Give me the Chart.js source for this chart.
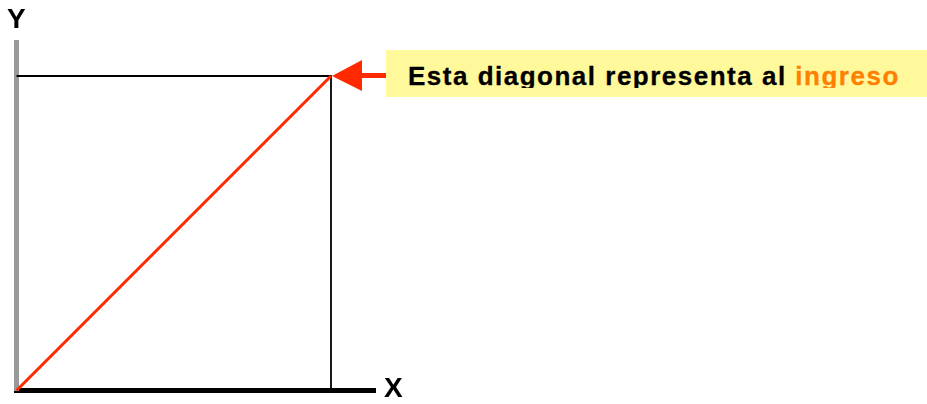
<!DOCTYPE html>
<html>
<head>
<meta charset="utf-8">
<script src="https://cdn.jsdelivr.net/npm/chart.js@4/dist/chart.umd.min.js"></script>
<style>
  html, body { margin: 0; padding: 0; background: #ffffff; }
  #wrap { position: relative; width: 927px; height: 404px; overflow: hidden; font-family: "Liberation Sans", Arial, sans-serif; }
  #c { position: absolute; left: 0; top: 0; }
  .axis-label { position: absolute; font-weight: bold; font-size: 28px; line-height: 28px; color: #000; white-space: nowrap; }
  #note { position: absolute; left: 386px; top: 50px; width: 541px; height: 47px; background: #FFF99C; }
  #noteText { position: absolute; left: 22px; top: 13px; height: 24.5px; overflow: hidden; white-space: nowrap;
              font-weight: bold; font-size: 26px; line-height: 26px; letter-spacing: 1.5px; color: #000;
              -webkit-text-stroke: 0.3px currentColor; }
  #noteText .hl { color: #FF8000; }
</style>
</head>
<body>
<div id="wrap">
  <canvas id="c" width="927" height="404"></canvas>
  <div class="axis-label" style="left:7px; top:4.6px;">Y</div>
  <div class="axis-label" style="left:384px; top:374.3px;">X</div>
  <div id="note"><div id="noteText">Esta diagonal representa al <span class="hl">ingreso</span></div></div>
</div>
<script>
// ---- data ----
const incomeLevel = 10;                 // the income that the diagonal represents
const diagonalX = [0, incomeLevel];
const diagonalY = [0, incomeLevel];
const frameX = [0, incomeLevel, incomeLevel];
const frameY = [incomeLevel, incomeLevel, 0];
const xAxisMax = 11.415;
const yAxisMax = 11.065;

const toPoints = (xs, ys) => xs.map((x, i) => ({ x: x, y: ys[i] }));

const arrowPlugin = {
  id: 'arrowToDiagonal',
  afterDatasetsDraw(chart) {
    const ctx = chart.ctx;
    const px = chart.scales.x.getPixelForValue(incomeLevel);
    const py = chart.scales.y.getPixelForValue(incomeLevel);
    ctx.save();
    ctx.fillStyle = '#FF2A00';
    ctx.beginPath();
    ctx.moveTo(px + 1, py);
    ctx.lineTo(px + 31, py - 16);
    ctx.lineTo(px + 31, py + 15);
    ctx.closePath();
    ctx.fill();
    ctx.fillRect(px + 30, py - 3, 386 - (px + 30), 5);
    ctx.restore();
  }
};

new Chart(document.getElementById('c'), {
  type: 'scatter',
  data: {
    datasets: [
      {
        label: 'frame',
        data: toPoints(frameX, frameY),
        showLine: true,
        borderColor: '#000000',
        borderWidth: 1.8,
        pointRadius: 0,
        fill: false,
        clip: false,
        order: 2
      },
      {
        label: 'ingreso',
        data: toPoints(diagonalX, diagonalY),
        showLine: true,
        borderColor: '#FF2A00',
        borderWidth: 3,
        pointRadius: 0,
        fill: false,
        clip: false,
        order: 1
      }
    ]
  },
  options: {
    responsive: false,
    animation: false,
    devicePixelRatio: 1,
    layout: { padding: { left: 16.5, right: 551.5, top: 42.5, bottom: 13.5 } },
    plugins: { legend: { display: false }, tooltip: { enabled: false }, title: { display: false } },
    scales: {
      x: {
        type: 'linear', min: 0, max: xAxisMax,
        ticks: { display: false },
        grid: { display: false, drawTicks: false },
        border: { display: true, color: '#000000', width: 5 },
        title: { display: false }
      },
      y: {
        type: 'linear', min: 0, max: yAxisMax,
        ticks: { display: false },
        grid: { display: false, drawTicks: false },
        border: { display: true, color: '#999999', width: 5 },
        title: { display: false }
      }
    }
  },
  plugins: [arrowPlugin]
});
</script>
</body>
</html>
